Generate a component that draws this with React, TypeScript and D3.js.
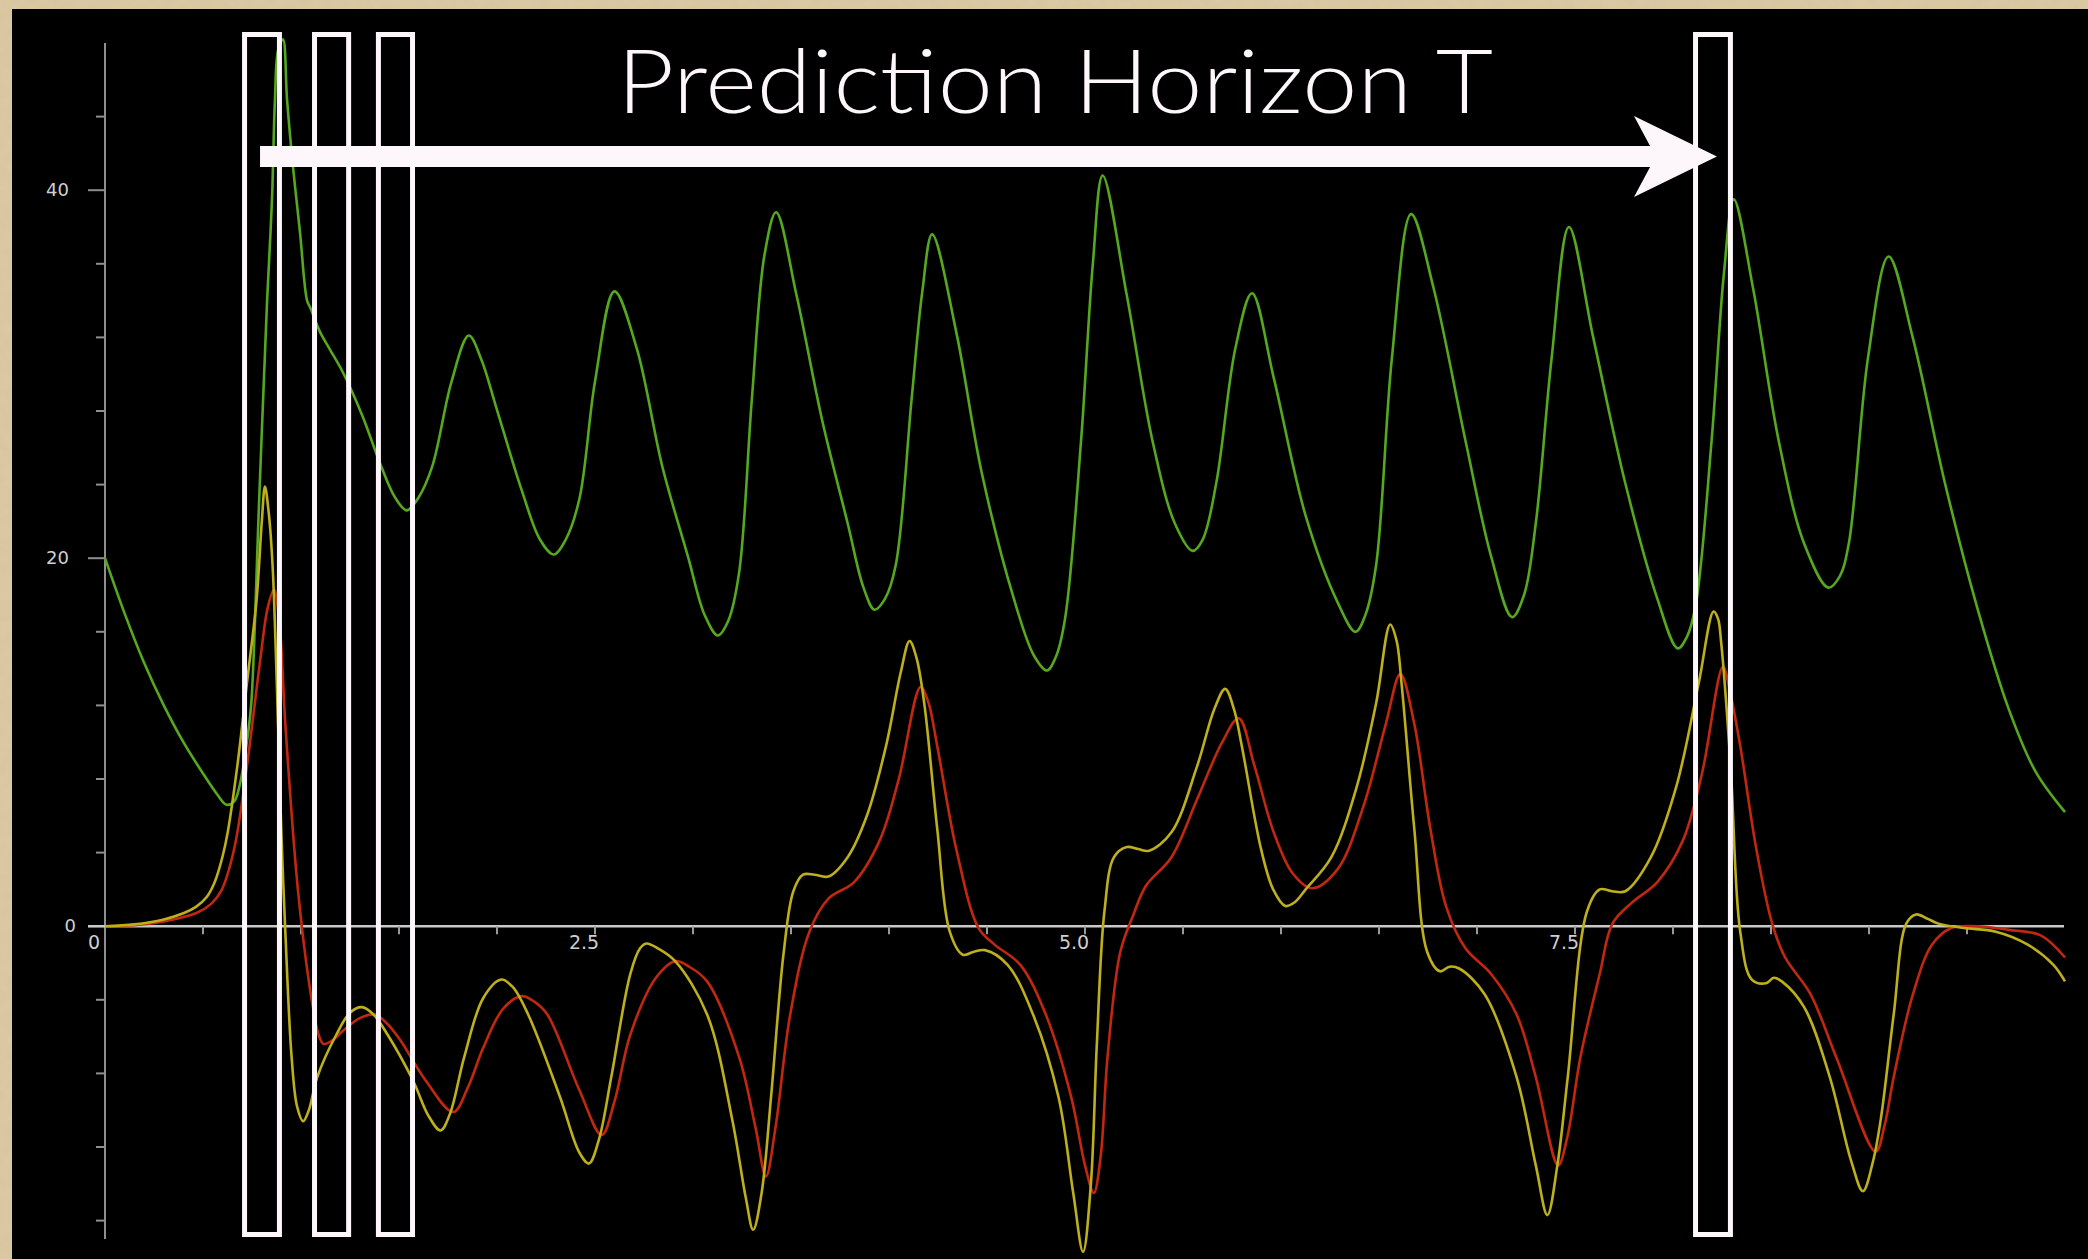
import React from "react";
import * as d3 from "d3";

// ---- data (t, value) ----
const greenSeries: [number, number][] = [
  [0, 20], [0.1, 17.0], [0.2, 14.3], [0.3, 12.0], [0.4, 10.0], [0.5, 8.3], [0.57, 7.2],
  [0.62, 6.6], [0.66, 6.8], [0.69, 7.8], [0.73, 10.5], [0.747, 12.2], [0.786, 23.0],
  [0.827, 34.0], [0.852, 39.5], [0.867, 44.9], [0.883, 47.6], [0.908, 48.2], [0.929, 44.9],
  [0.959, 41.3], [0.995, 37.7], [1.031, 34.0], [1.048, 33.6], [1.097, 32.3], [1.15, 31.3],
  [1.209, 30.2], [1.311, 27.8], [1.409, 25.0], [1.48, 23.3], [1.54, 22.6], [1.6, 23.3], [1.67, 25.0],
  [1.768, 29.6], [1.856, 32.1], [1.92, 30.8], [1.996, 28.2], [2.126, 23.7], [2.22, 21.0],
  [2.289, 20.2], [2.35, 21.0], [2.42, 23.2], [2.5, 29.6], [2.599, 34.5], [2.713, 31.4],
  [2.843, 25.0], [2.974, 20.1], [3.06, 16.9], [3.127, 15.8], [3.18, 16.6], [3.235, 19.2],
  [3.3, 28.6], [3.365, 36.5], [3.424, 38.8], [3.528, 34.3], [3.659, 27.5], [3.789, 21.9],
  [3.87, 18.4], [3.926, 17.2], [3.98, 17.8], [4.034, 19.6], [4.115, 28.6], [4.17, 34.5],
  [4.22, 37.6], [4.343, 32.3], [4.474, 24.6], [4.637, 17.8], [4.74, 14.7], [4.806, 13.9],
  [4.85, 14.6], [4.898, 16.7], [4.98, 26.4], [5.04, 36.0], [5.09, 40.8], [5.213, 34.3],
  [5.344, 26.4], [5.458, 21.9], [5.549, 20.4], [5.6, 21.0], [5.67, 24.1], [5.767, 31.4],
  [5.852, 34.4], [5.963, 29.8], [6.126, 22.3], [6.289, 17.6], [6.38, 16.0], [6.43, 16.9],
  [6.485, 19.6], [6.566, 30.9], [6.664, 38.7], [6.778, 34.7], [6.941, 26.4], [7.072, 20.1],
  [7.179, 16.8], [7.24, 18.0], [7.3, 21.9], [7.381, 30.9], [7.469, 38.0], [7.593, 32.0],
  [7.756, 24.1], [7.92, 17.8], [8.024, 15.1], [8.07, 15.7], [8.115, 17.4], [8.197, 26.4],
  [8.26, 35.5], [8.31, 39.5], [8.408, 34.7], [8.539, 26.4], [8.669, 20.8], [8.793, 18.4],
  [8.85, 19.0], [8.897, 20.8], [8.995, 30.9], [9.1, 36.4], [9.223, 32.0], [9.387, 24.1],
  [9.55, 17.4], [9.713, 11.8], [9.85, 8.4], [10.0, 6.2],
];

const yellowSeries: [number, number][] = [
  [0, 0], [0.15, 0.1], [0.3, 0.37], [0.4, 0.7], [0.464, 1.05], [0.52, 1.6], [0.56, 2.4], [0.6, 3.8],
  [0.626, 5.1], [0.675, 8.7], [0.724, 13.2], [0.773, 17.7], [0.8, 22.0], [0.816, 23.9],
  [0.835, 22.5], [0.855, 19.6], [0.88, 12.0], [0.9, 5.0], [0.92, -0.3], [0.952, -7.1],
  [0.98, -9.8], [1.011, -10.6], [1.04, -10.0], [1.083, -8.2], [1.18, -5.9], [1.25, -4.7],
  [1.31, -4.4], [1.37, -4.8], [1.442, -5.9], [1.572, -8.4], [1.65, -10.3], [1.712, -11.1],
  [1.76, -10.2], [1.833, -7.1], [1.93, -3.9], [2.022, -2.9], [2.08, -3.3], [2.159, -4.8],
  [2.322, -9.3], [2.42, -12.3], [2.469, -12.9], [2.52, -11.6], [2.583, -8.2], [2.68, -2.6],
  [2.73, -1.2], [2.762, -0.94], [2.82, -1.2], [2.909, -1.9], [3.072, -4.8], [3.2, -10.5],
  [3.27, -14.8], [3.307, -16.5], [3.35, -14.5], [3.398, -9.3], [3.463, -1.4], [3.512, 1.9],
  [3.561, 2.8], [3.62, 2.8], [3.691, 2.7], [3.789, 3.75], [3.887, 6.0], [3.985, 9.8],
  [4.06, 13.8], [4.105, 15.5], [4.14, 14.6], [4.18, 12.1], [4.246, 5.3], [4.31, -0.3],
  [4.376, -1.55], [4.43, -1.4], [4.49, -1.3], [4.605, -2.1], [4.735, -4.8], [4.865, -9.3],
  [4.94, -14.5], [4.99, -17.7], [5.03, -14.0], [5.06, -6.5], [5.099, 0.8], [5.148, 3.75],
  [5.213, 4.3], [5.27, 4.2], [5.327, 4.1], [5.441, 5.1], [5.572, 8.7], [5.66, 11.8],
  [5.715, 12.9], [5.76, 11.8], [5.8, 9.8], [5.898, 4.2], [5.96, 2.0], [6.022, 1.1], [6.07, 1.3],
  [6.126, 2.0], [6.257, 3.75], [6.387, 7.6], [6.485, 12.1], [6.557, 16.4], [6.59, 15.5],
  [6.615, 13.2], [6.68, 5.3], [6.746, -1.4], [6.811, -2.45], [6.86, -2.2], [6.909, -2.3],
  [7.039, -3.7], [7.202, -8.2], [7.3, -13.0], [7.359, -15.7], [7.41, -13.0], [7.463, -8.2],
  [7.561, 0.8], [7.626, 2.0], [7.69, 1.9], [7.757, 1.9], [7.887, 3.75], [8.017, 7.6],
  [8.131, 13.2], [8.207, 17.1], [8.23, 16.7], [8.245, 15.5], [8.294, 8.7], [8.343, -0.3],
  [8.402, -2.9], [8.474, -3.1], [8.515, -2.8], [8.555, -3.0], [8.669, -4.4], [8.8, -8.2],
  [8.91, -12.8], [8.969, -14.4], [9.02, -12.8], [9.06, -10.5], [9.126, -4.8], [9.19, 0.14],
  [9.24, 0.64], [9.3, 0.4], [9.354, 0.14], [9.484, -0.1], [9.647, -0.3], [9.81, -1.0],
  [9.941, -2.1], [10.0, -3.0],
];

const redSeries: [number, number][] = [
  [0, 0], [0.15, 0.05], [0.3, 0.26], [0.464, 0.7], [0.54, 1.2], [0.594, 1.95], [0.659, 4.2],
  [0.724, 8.7], [0.79, 14.3], [0.83, 17.3], [0.862, 18.3], [0.89, 16.5], [0.92, 11.0],
  [0.985, 1.9], [1.05, -3.7], [1.09, -5.9], [1.115, -6.4], [1.16, -6.2], [1.213, -5.7],
  [1.3, -5.0], [1.376, -4.8], [1.44, -5.3], [1.507, -6.2], [1.637, -8.4], [1.777, -10.1],
  [1.85, -8.8], [1.93, -6.6], [2.03, -4.5], [2.126, -3.8], [2.19, -4.1], [2.257, -4.8],
  [2.42, -8.9], [2.534, -11.35], [2.6, -9.5], [2.68, -5.9], [2.811, -2.8], [2.909, -1.9],
  [2.98, -2.2], [3.072, -3.0], [3.235, -7.1], [3.32, -11.0], [3.372, -13.6], [3.42, -11.0],
  [3.496, -4.8], [3.594, -0.3], [3.691, 1.5], [3.822, 2.4], [3.952, 4.65], [4.05, 8.0],
  [4.161, 13.0], [4.2, 12.2], [4.246, 9.8], [4.343, 4.2], [4.457, -0.1], [4.539, -1.0],
  [4.67, -2.1], [4.8, -4.8], [4.93, -9.3], [5.0, -13.0], [5.045, -14.5], [5.08, -12.5],
  [5.115, -7.1], [5.18, -1.4], [5.246, 0.6], [5.311, 2.2], [5.441, 3.75], [5.572, 6.9],
  [5.7, 10.0], [5.784, 11.3], [5.865, 8.7], [5.963, 5.1], [6.061, 2.85], [6.159, 2.06],
  [6.289, 3.1], [6.42, 6.5], [6.534, 10.96], [6.609, 13.7], [6.68, 11.0], [6.762, 5.3],
  [6.843, 1.05], [6.941, -1.2], [7.072, -2.6], [7.202, -4.8], [7.3, -8.2], [7.414, -13.0],
  [7.46, -11.5], [7.528, -7.1], [7.626, -2.6], [7.691, 0.14], [7.789, 1.27], [7.92, 2.4],
  [8.05, 4.65], [8.148, 8.3], [8.255, 14.1], [8.29, 12.8], [8.343, 9.8], [8.425, 4.2],
  [8.506, 0.14], [8.572, -1.7], [8.702, -3.7], [8.832, -7.1], [9.034, -12.25], [9.08, -10.8],
  [9.126, -8.2], [9.224, -3.7], [9.322, -1.0], [9.42, -0.1], [9.55, 0.0], [9.713, -0.2],
  [9.876, -0.5], [10.0, -1.7],
];

const yTicks = d3.range(-16, 45, 4);
const yTickLabels = [0, 20, 40];
const xTicks = d3.range(0.5, 10, 0.5);
const xTickLabels = ["0", "2.5", "5.0", "7.5"];
const xTickLabelValues = [0, 2.5, 5, 7.5];

// annotation windows (time units)
const windows: [number, number][] = [
  [0.712, 0.89], [1.069, 1.243], [1.395, 1.569], [8.115, 8.293],
];
const arrowStartT = 0.791;
const arrowNotchT = 7.883;
const arrowHeadBackT = 7.801;
const arrowTipT = 8.224;
const titleText = "Prediction Horizon T";

export default function App() {
  const W = 2088;
  const H = 1259;
  const x = d3.scaleLinear().domain([0, 10]).range([105, 2065]);
  const y = d3.scaleLinear().domain([-17, 48]).range([1239, 43]);

  const line = d3
    .line<[number, number]>()
    .x((d) => x(d[0]))
    .y((d) => y(d[1]))
    .curve(d3.curveCatmullRom.alpha(0.5));

  const axisX = x(0);
  const zeroY = y(0);

  const shaftTop = 146;
  const shaftBot = 167;
  const headTop = 116;
  const headBot = 197;
  const tipY = 156.5;
  const arrowPts = [
    [x(arrowStartT), shaftTop],
    [x(arrowNotchT), shaftTop],
    [x(arrowHeadBackT), headTop],
    [x(arrowTipT), tipY],
    [x(arrowHeadBackT), headBot],
    [x(arrowNotchT), shaftBot],
    [x(arrowStartT), shaftBot],
  ]
    .map((p) => p.join(","))
    .join(" ");

  return (
    <svg
      width={W}
      height={H}
      style={{ position: "absolute", left: 0, top: 0, display: "block" }}
    >
      <defs>
        <filter id="paper" x="0" y="0" width="100%" height="100%">
          <feTurbulence type="fractalNoise" baseFrequency="0.08" numOctaves="3" seed="3" />
          <feColorMatrix
            type="matrix"
            values="0 0 0 0 0.55  0 0 0 0 0.45  0 0 0 0 0.3  0 0 0 0.35 0"
          />
        </filter>
      </defs>
      <rect x={0} y={0} width={W} height={H} fill="#dccaa4" />
      <rect x={0} y={0} width={W} height={H} filter="url(#paper)" opacity={0.6} />
      <rect x={12} y={9} width={W - 12} height={H - 9} fill="#000" />

      {/* y axis */}
      <line x1={axisX} x2={axisX} y1={y(48)} y2={y(-17)} stroke="#8f8f8f" strokeWidth={2} />
      {yTicks.map((t) => {
        const major = yTickLabels.includes(t);
        return (
          <line
            key={"yt" + t}
            x1={axisX - (major ? 17 : 9)}
            x2={axisX}
            y1={y(t)}
            y2={y(t)}
            stroke="#8f8f8f"
            strokeWidth={2}
          />
        );
      })}
      {yTickLabels.map((t) => (
        <text
          key={"yl" + t}
          x={t === 0 ? 76 : 69}
          y={y(t) + 6}
          textAnchor="end"
          fontFamily="'DejaVu Sans', sans-serif"
          fontSize={18}
          fill="#cfcfcf"
        >
          {String(t)}
        </text>
      ))}

      {/* x axis */}
      <line x1={88} x2={2064} y1={zeroY} y2={zeroY} stroke="#c9c9c9" strokeWidth={2.5} />
      {xTicks.map((t) => (
        <line
          key={"xt" + t}
          x1={x(t)}
          x2={x(t)}
          y1={zeroY}
          y2={zeroY + 8}
          stroke="#9a9a9a"
          strokeWidth={2}
        />
      ))}
      {xTickLabelValues.map((t, i) => (
        <text
          key={"xl" + t}
          x={x(t) - 11}
          y={zeroY + 23}
          textAnchor="middle"
          fontFamily="'DejaVu Sans', sans-serif"
          fontSize={19}
          fill="#cfcfcf"
        >
          {xTickLabels[i]}
        </text>
      ))}

      {/* series */}
      <path d={line(greenSeries) || ""} fill="none" stroke="#55a81f" strokeWidth={2.6} />
      <path d={line(redSeries) || ""} fill="none" stroke="#c2280f" strokeWidth={2.6} />
      <path d={line(yellowSeries) || ""} fill="none" stroke="#bdb01c" strokeWidth={2.6} />

      {/* annotation windows */}
      {windows.map(([a, b], i) => (
        <rect
          key={"w" + i}
          x={x(a)}
          y={34.5}
          width={x(b) - x(a)}
          height={1200}
          fill="none"
          stroke="#fdf6fb"
          strokeWidth={5}
        />
      ))}

      {/* arrow */}
      <polygon points={arrowPts} fill="#fdf6fb" />

      {/* title */}
      <text
        x={1055}
        y={113}
        textAnchor="middle"
        fontFamily="Lato, 'Open Sans', sans-serif"
        fontWeight={300}
        fontSize={88}
        fill="#fdf6fb"
        textLength={876}
        lengthAdjust="spacingAndGlyphs"
      >
        {titleText}
      </text>
    </svg>
  );
}
